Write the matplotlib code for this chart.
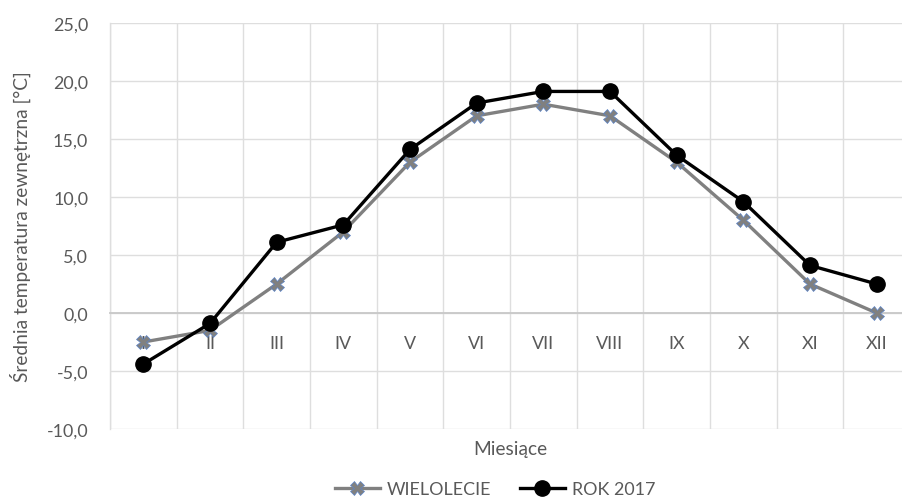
import matplotlib
matplotlib.use("Agg")
import matplotlib.pyplot as plt
from matplotlib.ticker import FuncFormatter, FixedLocator

months = ["I", "II", "III", "IV", "V", "VI", "VII", "VIII", "IX", "X", "XI", "XII"]
wielolecie = [-2.5, -1.5, 2.5, 7.0, 13.0, 17.0, 18.0, 17.0, 13.0, 8.0, 2.5, 0.0]
rok2017 = [-4.4, -0.9, 6.1, 7.6, 14.1, 18.1, 19.1, 19.1, 13.6, 9.6, 4.1, 2.5]
yticks = [-10, -5, 0, 5, 10, 15, 20, 25]

plt.rcParams['font.family'] = ['Lato', 'DejaVu Sans']
TXT = '#595959'
GRID = '#DEDEDE'
FS = 12.9

fig = plt.figure(figsize=(9.03, 5.02), dpi=100)
ax = fig.add_axes([110/903, 72/502, 800/903, 406/502])

x = list(range(1, len(months) + 1))
ax.plot(x, wielolecie, color='#808080', lw=2.4, marker='X', ms=9.5,
        mfc='#808080', mec='#5B84C8', mew=0.5, label='WIELOLECIE', zorder=3)
ax.plot(x, rok2017, color='black', lw=2.4, marker='o', ms=11,
        mfc='black', mec='black', label='ROK 2017', zorder=4)

ax.set_xlim(0.5, len(months) + 0.5)
ax.set_ylim(min(yticks), max(yticks))
ax.yaxis.set_major_locator(FixedLocator(yticks))
ax.yaxis.set_major_formatter(FuncFormatter(lambda v, p: f"{v:.1f}".replace('.', ',')))
ax.set_xticks(x)
ax.set_xticklabels(months)
ax.xaxis.set_minor_locator(FixedLocator([i + 0.5 for i in range(0, len(months) + 1)]))

ax.grid(True, axis='y', which='major', color=GRID, lw=1.0)
ax.grid(True, axis='x', which='minor', color=GRID, lw=1.0)
ax.set_axisbelow(True)

for s in ['top', 'right']:
    ax.spines[s].set_visible(False)
ax.spines['left'].set_color(GRID)
ax.spines['left'].set_linewidth(1.0)
ax.spines['bottom'].set_position(('data', 0))
ax.spines['bottom'].set_color('#C8C8C8')
ax.spines['bottom'].set_linewidth(1.3)

ax.tick_params(axis='x', which='both', length=0, pad=21.6, labelsize=FS, colors=TXT)
for lab in ax.get_xticklabels():
    lab.set_va('center')
ax.tick_params(axis='y', which='both', length=0, pad=15.8, labelsize=FS, colors=TXT)

ax.set_xlabel('Miesiące', fontsize=13.8, color=TXT)
ax.xaxis.set_label_coords(0.5, -20/406)
ax.xaxis.label.set_va('center')
ax.set_ylabel('Średnia temperatura zewnętrzna [°C]', fontsize=13.8, color=TXT, va='center')
ax.yaxis.set_label_coords(-90/800, 0.5)

leg = fig.legend(loc='center', bbox_to_anchor=(495/903, 1 - 490/502), ncol=2,
                 frameon=False, fontsize=FS, handlelength=2.5, handletextpad=0.4,
                 columnspacing=1.6)
for t in leg.get_texts():
    t.set_color(TXT)

fig.savefig('out.png', dpi=100)
